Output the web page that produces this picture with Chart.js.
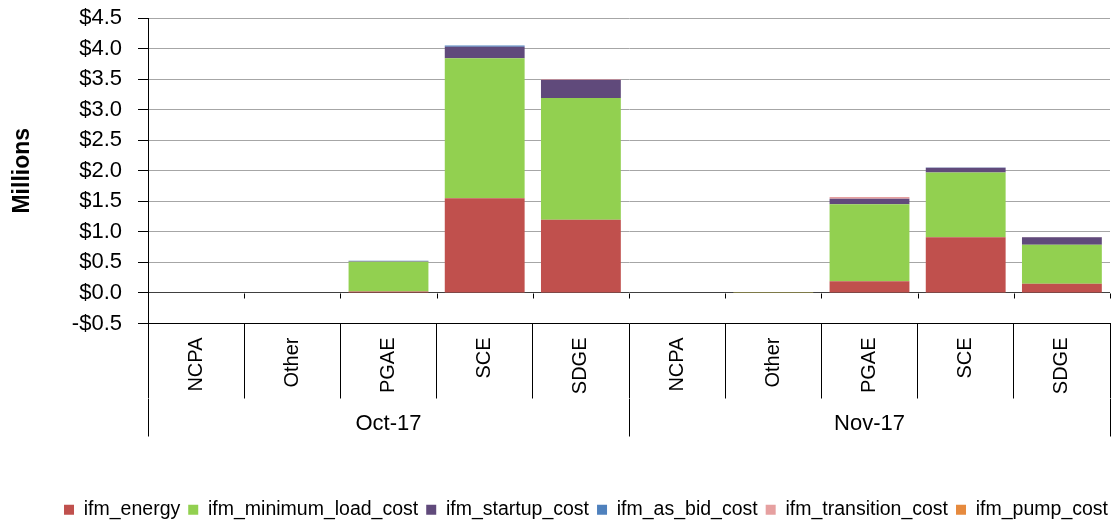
<!DOCTYPE html>
<html><head><meta charset="utf-8">
<script src="https://cdn.jsdelivr.net/npm/chart.js@4.4.1/dist/chart.umd.min.js"></script>
<style>html,body{margin:0;padding:0;background:#fff;}</style>
</head><body>
<canvas id="c" width="1111" height="522"></canvas>
<script>
const categories = ['NCPA','Other','PGAE','SCE','SDGE','NCPA','Other','PGAE','SCE','SDGE'];
const groups = ['Oct-17','Nov-17'];
const seriesNames = ['ifm_energy','ifm_minimum_load_cost','ifm_startup_cost','ifm_as_bid_cost','ifm_transition_cost','ifm_pump_cost'];
const seriesColors = ['#C0504D','#92D050','#604A7B','#4F81BD','#E6A0A0','#E68A3E'];
const ifmEnergy     = [0, 0, 0.025, 1.55, 1.20, 0, 0.003, 0.19, 0.91, 0.15];
const ifmMinLoad    = [0, 0, 0.485, 2.29, 1.99, 0, 0.008, 1.26, 1.06, 0.64];
const ifmStartup    = [0, 0, 0.010, 0.19, 0.30, 0, 0, 0.09, 0.08, 0.12];
const ifmAsBid      = [0, 0, 0.008, 0.02, 0, 0, 0, 0, 0.005, 0];
const ifmTransition = [0, 0, 0, 0, 0.01, 0, 0, 0.03, 0, 0.005];
const ifmPump       = [0, 0, 0, 0, 0, 0, 0, 0, 0, 0];
const seriesValues = [ifmEnergy, ifmMinLoad, ifmStartup, ifmAsBid, ifmTransition, ifmPump];
const yMin = -0.5, yMax = 4.5, yStep = 0.5;

const FONT = "'Liberation Sans', Arial, sans-serif";
Chart.defaults.font.family = FONT;
Chart.defaults.color = '#000';

const zeroTicks = {
  id: 'zeroTicks',
  afterDraw(chart) {
    const xs = chart.scales.x, ys = chart.scales.y, ctx = chart.ctx;
    const y0 = Math.round(ys.getPixelForValue(0)) + 0.5;
    const n = categories.length;
    ctx.save();
    ctx.strokeStyle = '#000';
    ctx.lineWidth = 1;
    ctx.beginPath();
    for (let i = 0; i <= n; i++) {
      const x = Math.round(xs.left + i * xs.width / n) + 0.5;
      ctx.moveTo(x, y0);
      ctx.lineTo(x, y0 + 5);
    }
    ctx.stroke();
    ctx.restore();
  }
};

const legendShift = {
  id: 'legendShift',
  afterLayout(chart) {
    const lg = chart.legend;
    if (lg) { lg.left += 31; lg.right += 31; }
  }
};

new Chart(document.getElementById('c'), {
  type: 'bar',
  data: {
    labels: categories,
    datasets: seriesNames.map((name, i) => ({
      label: name,
      data: seriesValues[i],
      backgroundColor: seriesColors[i],
      borderWidth: 0,
      barPercentage: 0.83,
      categoryPercentage: 1.0
    }))
  },
  options: {
    responsive: false,
    animation: false,
    layout: { padding: { top: 18, right: 1, left: 0, bottom: -7.5 } },
    plugins: {
      tooltip: { enabled: false },
      legend: {
        position: 'bottom',
        labels: { boxWidth: 10, boxHeight: 10, padding: 8, font: { size: 19.5, family: FONT }, color: '#000' }
      }
    },
    scales: {
      x: {
        type: 'category', stacked: true, offset: true, weight: 0,
        grid: { offset: true, drawOnChartArea: false, drawTicks: true, tickLength: 75, tickColor: '#000', color: '#000' },
        border: { display: true, color: '#000' },
        ticks: { autoSkip: false, maxRotation: 90, minRotation: 90, padding: -61, font: { size: 20, family: FONT }, color: '#000' },
        afterFit: s => { s.height = 75; }
      },
      x2: {
        type: 'category', labels: groups, position: 'bottom', offset: true, weight: 1,
        grid: { offset: true, drawOnChartArea: false, drawTicks: true, tickLength: 38, tickColor: '#000', color: '#000' },
        border: { display: false },
        ticks: { maxRotation: 0, minRotation: 0, padding: -26, font: { size: 22, family: FONT }, color: '#000' },
        afterFit: s => { s.height = 93.5; }
      },
      y: {
        stacked: true, min: yMin, max: yMax,
        ticks: {
          stepSize: yStep, padding: 16, font: { size: 22, family: FONT }, color: '#000',
          callback: v => (v < 0 ? '-$' : '$') + Math.abs(v).toFixed(1)
        },
        grid: {
          color: ctx => (ctx.tick && Math.abs(ctx.tick.value) < 1e-9) ? '#404040' : '#A6A6A6',
          tickColor: '#000', tickLength: 10
        },
        border: { color: '#000' },
        title: { display: true, text: 'Millions', font: { size: 23, weight: 'bold', family: FONT }, color: '#000', padding: { top: 9, bottom: 0 } },
        afterFit: s => { s.width = 148; s.paddingTop = 0; s.paddingBottom = 0; }
      }
    }
  },
  plugins: [zeroTicks, legendShift]
});
</script>
</body></html>
